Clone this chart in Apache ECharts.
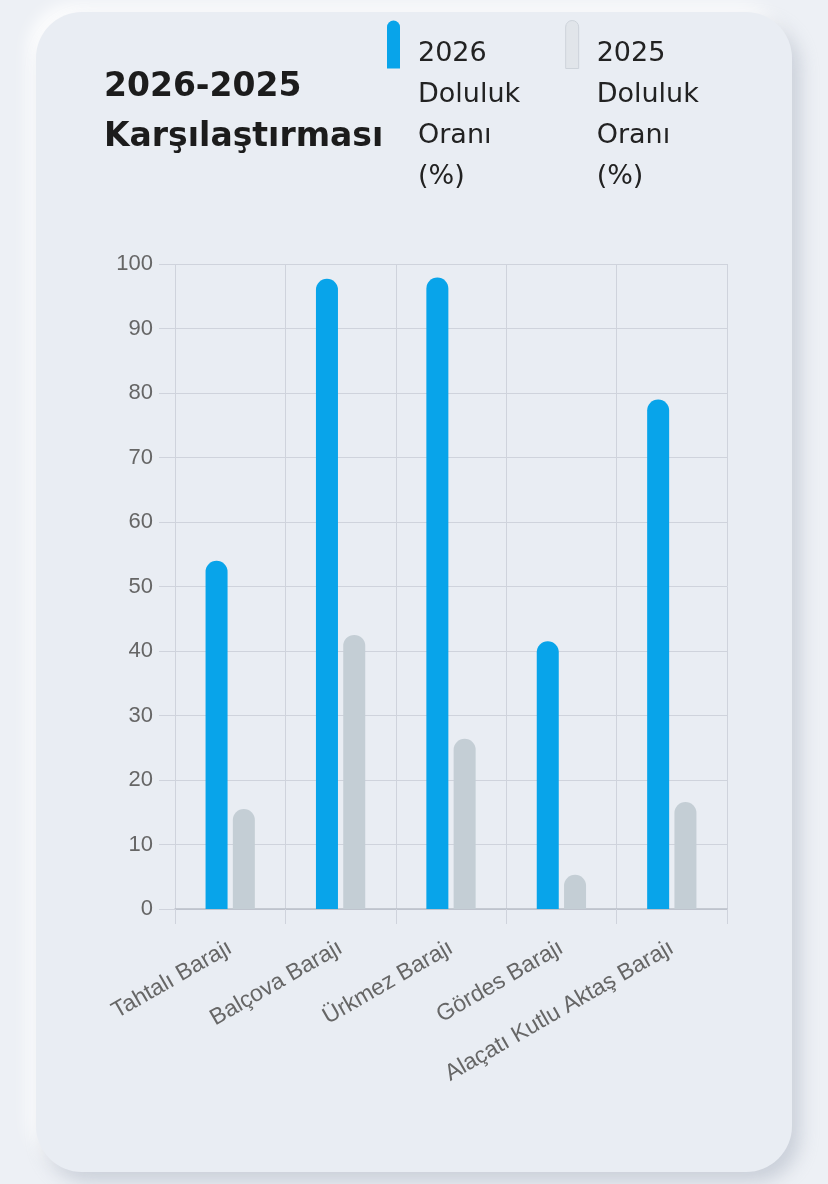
<!DOCTYPE html>
<html><head><meta charset="utf-8">
<script src="https://cdn.jsdelivr.net/npm/echarts@6/dist/echarts.min.js"></script>
<style>
html,body{margin:0;padding:0;width:828px;height:1184px;background:#edf0f5;overflow:hidden;}
#card{position:absolute;left:36px;top:12px;width:756px;height:1160px;border-radius:46px;background:#e9edf3;
box-shadow:8px 10px 18px rgba(160,168,185,0.45),-8px -8px 16px rgba(255,255,255,0.9);}
#chart{position:absolute;left:0;top:0;width:828px;height:1184px;}
</style></head>
<body>
<div id="card"></div>
<div id="chart"></div>
<script>
const categories = ['Tahtalı Barajı','Balçova Barajı','Ürkmez Barajı','Gördes Barajı','Alaçatı Kutlu Aktaş Barajı'];
const seriesNames = ['2026 Doluluk Oranı (%)','2025 Doluluk Oranı (%)'];
const values2026 = [54, 97.7, 97.9, 41.5, 79];
const values2025 = [15.5, 42.5, 26.4, 5.3, 16.6];
const yTicks = [0,10,20,30,40,50,60,70,80,90,100];

const pill = 'path://M0,6.5 A6.5,6.5 0 0 1 13,6.5 L13,48 L0,48 Z M26,189 L26,189';
const chart = echarts.init(document.getElementById('chart'));
const gridColor = '#cfd3dc';
chart.setOption({
  animation:false,
  backgroundColor:'transparent',
  title:{text:'2026-2025\nKarşılaştırması',left:99,top:57,
    textStyle:{fontFamily:'DejaVu Sans',fontWeight:'bold',fontSize:33,lineHeight:50,color:'#1c1c1c'}},
  legend:{left:387,top:20,padding:0,itemGap:45,itemWidth:26,itemHeight:189,
    formatter:n=>n.split(' ').join('\n'),
    textStyle:{fontFamily:'DejaVu Sans',fontSize:27,lineHeight:41,color:'#222'},
    data:[{name:seriesNames[0],icon:pill,itemStyle:{color:'#08a4ea'}},
          {name:seriesNames[1],icon:pill,itemStyle:{color:'#e1e5ea',borderColor:'#cdd3da',borderWidth:1}}]},
  grid:{left:175,right:101,top:264,bottom:275,containLabel:false},
  xAxis:{type:'category',data:categories,
    axisLine:{lineStyle:{color:'#b9bec8',width:1.5}},
    axisTick:{show:true,length:15,lineStyle:{color:gridColor}},
    splitLine:{show:true,lineStyle:{color:gridColor,width:1}},
    axisLabel:{rotate:30,margin:37,fontFamily:'Liberation Sans',fontSize:23,color:'#666'}},
  yAxis:{type:'value',min:yTicks[0],max:yTicks[yTicks.length-1],interval:10,
    axisLine:{show:false},
    axisTick:{show:true,length:16,lineStyle:{color:gridColor}},
    splitLine:{lineStyle:{color:gridColor,width:1}},
    axisLabel:{margin:22,fontFamily:'Liberation Sans',fontSize:22,color:'#666'}},
  series:[
    {name:seriesNames[0],type:'bar',data:values2026,barWidth:22,barGap:'24%',
      itemStyle:{color:'#08a4ea',borderRadius:[11,11,0,0]}},
    {name:seriesNames[1],type:'bar',data:values2025,barWidth:22,
      itemStyle:{color:'#c4ced5',borderRadius:[11,11,0,0]}}
  ]
});
</script>
</body></html>
